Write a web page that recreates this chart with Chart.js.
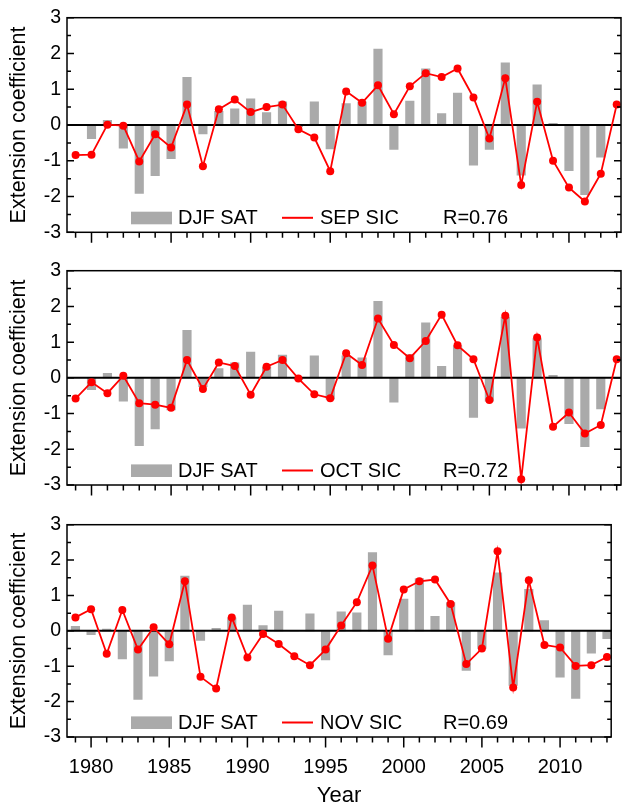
<!DOCTYPE html>
<html><head><meta charset="utf-8">
<script src="https://cdn.jsdelivr.net/npm/chart.js@4.4.1/dist/chart.umd.min.js"></script>
<style>
html,body{margin:0;padding:0;background:#fff;width:625px;height:809px;overflow:hidden}
canvas{position:absolute;left:0}
</style></head><body>
<canvas id="c1" width="625" height="250" style="top:0px"></canvas>
<canvas id="c2" width="625" height="250" style="top:253px"></canvas>
<canvas id="c3" width="625" height="302" style="top:507px"></canvas>
<script>
const years = [1979,1980,1981,1982,1983,1984,1985,1986,1987,1988,1989,1990,1991,1992,1993,1994,1995,1996,1997,1998,1999,2000,2001,2002,2003,2004,2005,2006,2007,2008,2009,2010,2011,2012,2013];
const xTickLabels = [1980,1985,1990,1995,2000,2005,2010];
const yTickValues = [-3,-2,-1,0,1,2,3];

const barName = 'DJF SAT';
const lineNames = ['SEP SIC','OCT SIC','NOV SIC'];
const rLabels = ['R=0.76','R=0.72','R=0.69'];

// Panel 1: DJF SAT vs SEP SIC
const satSep = [0.0,-0.38,0.13,-0.65,-1.91,-1.42,-0.94,1.33,-0.25,0.38,0.45,0.73,0.35,0.65,-0.05,0.65,-0.67,0.6,0.65,2.12,-0.68,0.67,1.57,0.32,0.89,-1.12,-0.68,1.74,-1.4,1.12,0.05,-1.28,-1.95,-0.9,0.0];
const sicSep = [-0.84,-0.83,0.01,-0.02,-1.02,-0.26,-0.63,0.57,-1.15,0.44,0.71,0.36,0.5,0.57,-0.12,-0.35,-1.29,0.94,0.62,1.11,0.3,1.08,1.45,1.34,1.58,0.77,-0.38,1.31,-1.68,0.65,-1.0,-1.75,-2.14,-1.36,0.57];

// Panel 2: DJF SAT vs OCT SIC
const satOct = [0.0,-0.33,0.13,-0.65,-1.9,-1.43,-0.9,1.33,-0.25,0.26,0.42,0.72,0.3,0.64,-0.05,0.62,-0.6,0.62,0.56,2.14,-0.68,0.65,1.54,0.32,0.9,-1.11,-0.65,1.7,-1.41,1.1,0.07,-1.28,-1.93,-0.87,0.0];
const sicOct = [-0.58,-0.12,-0.43,0.06,-0.71,-0.75,-0.84,0.5,-0.31,0.43,0.33,-0.47,0.31,0.5,-0.02,-0.46,-0.57,0.69,0.36,1.66,0.92,0.55,1.03,1.77,0.91,0.52,-0.62,1.74,-2.84,1.13,-1.37,-0.97,-1.56,-1.32,0.52];

// Panel 3: DJF SAT vs NOV SIC
const satNov = [0.13,-0.11,0.05,-0.79,-1.94,-1.28,-0.85,1.55,-0.27,0.07,0.37,0.73,0.15,0.56,0.0,0.48,-0.82,0.54,0.51,2.21,-0.68,0.9,1.48,0.41,0.8,-1.12,-0.5,1.64,-1.54,1.17,0.29,-1.31,-1.91,-0.63,-0.22];
const sicNov = [0.38,0.61,-0.65,0.59,-0.53,0.1,-0.38,1.4,-1.3,-1.63,0.38,-0.75,-0.09,-0.37,-0.72,-0.97,-0.53,0.15,0.81,1.85,-0.22,1.17,1.4,1.45,0.76,-0.94,-0.5,2.25,-1.6,1.43,-0.4,-0.47,-0.99,-0.97,-0.74];

const FONT = '"Liberation Sans", Arial, Helvetica, sans-serif';
Chart.defaults.font.family = FONT;
Chart.defaults.color = '#000';

const BAR_COLOR = '#aaaaaa';
const LINE_COLOR = '#ff0000';

const framePlugin = {
  id: 'frame',
  beforeDatasetDraw(chart, args) {
    if (args.index !== 1) return;
    const {ctx, chartArea: a, scales: {y}} = chart;
    const y0 = y.getPixelForValue(0);
    ctx.save();
    ctx.strokeStyle = '#000'; ctx.lineWidth = 2;
    ctx.beginPath(); ctx.moveTo(a.left, y0); ctx.lineTo(a.right, y0); ctx.stroke();
    ctx.restore();
  },
  afterDraw(chart, args, opts) {
    const {ctx, chartArea: a, scales: {x, y}} = chart;
    ctx.save();
    ctx.strokeStyle = '#000'; ctx.lineWidth = 1.5;
    ctx.strokeRect(a.left, a.top, a.right - a.left, a.bottom - a.top);
    ctx.beginPath();
    for (let i = 0; i < yTickValues.length; i++) {
      const v = yTickValues[i];
      const p = y.getPixelForValue(v);
      ctx.moveTo(a.left, p); ctx.lineTo(a.left + 7, p);
      ctx.moveTo(a.right, p); ctx.lineTo(a.right - 7, p);
      if (i < yTickValues.length - 1) {
        const m = y.getPixelForValue((v + yTickValues[i + 1]) / 2);
        ctx.moveTo(a.left, m); ctx.lineTo(a.left + 4, m);
        ctx.moveTo(a.right, m); ctx.lineTo(a.right - 4, m);
      }
    }
    years.forEach(yr => {
      const p = x.getPixelForValue(yr);
      const len = xTickLabels.includes(yr) ? 10.5 : 5.5;
      ctx.moveTo(p, a.bottom); ctx.lineTo(p, a.bottom + len);
    });
    ctx.stroke();
    const base = a.bottom - 8;
    ctx.fillStyle = BAR_COLOR;
    ctx.fillRect(a.left + 64, base - 12.6, 41, 12.6);
    ctx.strokeStyle = LINE_COLOR; ctx.lineWidth = 2;
    ctx.beginPath(); ctx.moveTo(a.left + 215, base - 6.5); ctx.lineTo(a.left + 246, base - 6.5); ctx.stroke();
    ctx.fillStyle = '#000';
    ctx.font = '20px ' + FONT;
    ctx.textBaseline = 'alphabetic'; ctx.textAlign = 'left';
    ctx.fillText(barName, a.left + 111, base);
    ctx.fillText(opts.lineName, a.left + 253, base);
    ctx.fillText(opts.rText, a.left + 376, base);
    ctx.restore();
  }
};

function makePanel(id, sat, sic, idx, showX, xHeight) {
  new Chart(document.getElementById(id), {
    type: 'bar',
    data: {
      datasets: [
        {type: 'bar', label: barName, data: years.map((yr, i) => ({x: yr, y: sat[i]})),
         backgroundColor: BAR_COLOR, borderWidth: 0, barThickness: 8.5, order: 2},
        {type: 'line', label: lineNames[idx], data: years.map((yr, i) => ({x: yr, y: sic[i]})),
         borderColor: LINE_COLOR, backgroundColor: LINE_COLOR, borderWidth: 1.8,
         pointRadius: 4, pointBackgroundColor: LINE_COLOR, pointBorderWidth: 0,
         tension: 0, order: 1, clip: false}
      ]
    },
    options: {
      responsive: false, animation: false, devicePixelRatio: 1,
      layout: {padding: {top: 12, right: 1, left: 0, bottom: 0}},
      plugins: {legend: {display: false}, tooltip: {enabled: false},
                frame: {lineName: lineNames[idx], rText: rLabels[idx]}},
      scales: {
        x: {type: 'linear', min: 1978.46, max: 2013.27, offset: false,
            grid: {display: false, drawTicks: false}, border: {display: false},
            ticks: {display: showX, stepSize: 1, autoSkip: false, maxRotation: 0, includeBounds: false,
                    padding: 18, font: {size: 20}, color: '#000',
                    callback: v => xTickLabels.includes(v) ? String(v) : ''},
            title: {display: showX, text: 'Year', font: {size: 22}, color: '#000', padding: 0},
            afterFit: s => { s.height = xHeight; }},
        y: {min: -3, max: 3,
            grid: {display: false, drawTicks: false}, border: {display: false},
            ticks: {stepSize: 1, padding: 6, font: {size: 19.5}, color: '#000'},
            title: {display: true, text: 'Extension coefficient', font: {size: 21.5}, color: '#000',
                    padding: {top: 6, bottom: 0}},
            afterFit: s => { s.width = 67; }}
      }
    },
    plugins: [framePlugin]
  });
}

makePanel('c1', satSep, sicSep, 0, false, 17);
makePanel('c2', satOct, sicOct, 1, false, 18);
makePanel('c3', satNov, sicNov, 2, true, 72);
</script>
</body></html>
